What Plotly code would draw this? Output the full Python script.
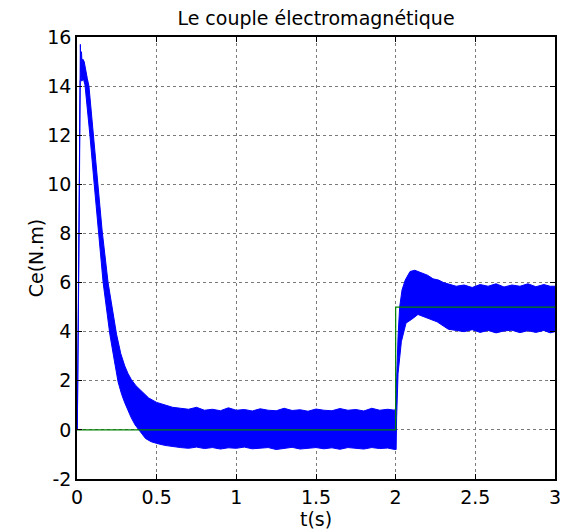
import plotly.graph_objects as go

# Upper envelope of the electromagnetic torque ripple band
t_upper = [0.002, 0.010, 0.018, 0.021, 0.024, 0.028, 0.032, 0.036, 0.045, 0.055,
           0.065, 0.075, 0.102, 0.133, 0.158, 0.195, 0.225, 0.248, 0.275, 0.30,
           0.32, 0.341, 0.37, 0.40, 0.45, 0.50, 0.55, 0.60, 0.65, 0.70,
           0.75, 0.80, 0.85, 0.90, 0.95, 1.00, 1.05, 1.10, 1.15, 1.20,
           1.25, 1.30, 1.35, 1.40, 1.45, 1.50, 1.55, 1.60, 1.65, 1.70,
           1.75, 1.80, 1.85, 1.90, 1.95, 1.995, 2.000, 2.006, 2.015, 2.025,
           2.040, 2.060, 2.090, 2.120, 2.160, 2.200, 2.235, 2.270, 2.300, 2.330,
           2.380, 2.430, 2.480, 2.530, 2.580, 2.630, 2.680, 2.730, 2.780, 2.830,
           2.880, 2.930, 2.970, 3.000]
ce_upper = [0.0, 7.0, 14.4, 15.7, 14.6, 15.4, 14.9, 15.1, 15.0, 14.6,
            14.3, 14.0, 12.0, 10.0, 8.1, 6.0, 4.8, 3.9, 3.1, 2.6,
            2.3, 2.05, 1.8, 1.6, 1.3, 1.12, 1.02, 0.92, 0.88, 0.84,
            0.92, 0.80, 0.84, 0.78, 0.90, 0.80, 0.83, 0.77, 0.86, 0.80,
            0.78, 0.88, 0.79, 0.82, 0.76, 0.85, 0.80, 0.78, 0.87, 0.80,
            0.83, 0.77, 0.88, 0.80, 0.84, 0.80, 0.90, 2.3, 3.8, 5.0,
            5.7, 6.1, 6.45, 6.5, 6.4, 6.3, 6.15, 6.1, 6.0, 5.95,
            5.85, 5.9, 5.8, 5.92, 5.85, 5.95, 5.82, 5.9, 5.85, 5.95,
            5.83, 5.92, 5.85, 5.85]

# Lower envelope of the band
t_lower = [0.002, 0.012, 0.020, 0.025, 0.030, 0.040, 0.050, 0.081, 0.108, 0.133,
           0.164, 0.206, 0.235, 0.258, 0.28, 0.30, 0.32, 0.34, 0.365, 0.393,
           0.43, 0.465, 0.50, 0.55, 0.60, 0.65, 0.70, 0.75, 0.80, 0.85,
           0.90, 0.95, 1.00, 1.05, 1.10, 1.15, 1.20, 1.25, 1.30, 1.35,
           1.40, 1.45, 1.50, 1.55, 1.60, 1.65, 1.70, 1.75, 1.80, 1.85,
           1.90, 1.95, 1.995, 2.003, 2.006, 2.015, 2.036, 2.065, 2.100, 2.140,
           2.200, 2.260, 2.330, 2.380, 2.430, 2.480, 2.530, 2.580, 2.630, 2.680,
           2.730, 2.780, 2.830, 2.880, 2.930, 2.970, 3.000]
ce_lower = [0.0, 7.0, 14.2, 14.4, 14.2, 14.3, 14.05, 12.0, 10.0, 8.1,
            6.0, 3.9, 2.8, 1.95, 1.45, 1.1, 0.78, 0.5, 0.2, -0.05,
            -0.35, -0.48, -0.55, -0.63, -0.68, -0.72, -0.75, -0.70, -0.76, -0.72,
            -0.78, -0.73, -0.75, -0.70, -0.77, -0.74, -0.72, -0.80, -0.74, -0.71,
            -0.78, -0.75, -0.72, -0.77, -0.73, -0.79, -0.72, -0.75, -0.78, -0.72,
            -0.76, -0.74, -0.80, -0.80, 0.5, 2.3, 3.6, 4.35, 4.5, 4.7,
            4.55, 4.4, 4.1, 4.05, 4.0, 4.08, 3.97, 4.05, 3.95, 4.03,
            4.06, 3.96, 4.04, 3.97, 4.05, 3.95, 4.0]

# Load torque reference (green)
t_ref = [0, 2, 2, 3]
ce_ref = [0, 0, 5, 5]

x_ticks = [0, 0.5, 1, 1.5, 2, 2.5, 3]
x_tick_text = ["0", "0.5", "1", "1.5", "2", "2.5", "3"]
y_ticks = [-2, 0, 2, 4, 6, 8, 10, 12, 14, 16]
y_tick_text = ["-2", "0", "2", "4", "6", "8", "10", "12", "14", "16"]

FONT = "DejaVu Sans"
FS = 19

fig = go.Figure()
fig.add_trace(go.Scatter(
    x=t_upper + t_lower[::-1],
    y=ce_upper + ce_lower[::-1],
    mode="lines", fill="toself",
    fillcolor="#0000FF",
    line=dict(color="#0000FF", width=1),
    hoverinfo="skip", showlegend=False,
))
fig.add_trace(go.Scatter(
    x=t_ref, y=ce_ref, mode="lines",
    line=dict(color="#008000", width=1.2),
    showlegend=False,
))

# page is offset by the default 8px body margin
OFF = 8
W, H = 573 - OFF, 532 - OFF
L, R, T, B = 77 - OFF, 15, 37 - OFF, 53
pw, ph = W - L - R, H - T - B

axis_common = dict(
    showline=True, linecolor="black", linewidth=1.5, mirror="ticks",
    ticks="inside", ticklen=5, tickcolor="black", tickwidth=1,
    showgrid=True, gridcolor="#7a7a7a", griddash="dot", gridwidth=1,
    zeroline=False, tickfont=dict(family=FONT, size=FS, color="black"),
)

fig.update_layout(
    width=W, height=H,
    margin=dict(l=L, r=R, t=T, b=B),
    paper_bgcolor="white", plot_bgcolor="white",
    title=dict(text="Le couple électromagnétique",
               font=dict(family=FONT, size=FS, color="black"),
               x=0.5, xref="paper", xanchor="center",
               y=1 - (18 - OFF) / H, yref="container", yanchor="middle"),
    xaxis=dict(range=[0, 3], tickvals=x_ticks, ticktext=x_tick_text, **axis_common),
    yaxis=dict(range=[-2, 16], tickvals=y_ticks, ticktext=y_tick_text, **axis_common),
    annotations=[
        dict(text="t(s)", xref="paper", yref="paper", x=0.5,
             y=-((519 - OFF) - (T + ph)) / ph, xanchor="center", yanchor="middle",
             showarrow=False, font=dict(family=FONT, size=FS, color="black")),
        dict(text="Ce(N.m)", xref="paper", yref="paper",
             x=((36 - OFF) - L) / pw, y=0.5, xanchor="center", yanchor="middle",
             textangle=-90, showarrow=False,
             font=dict(family=FONT, size=FS, color="black")),
    ],
)

fig.write_html("out.html")
